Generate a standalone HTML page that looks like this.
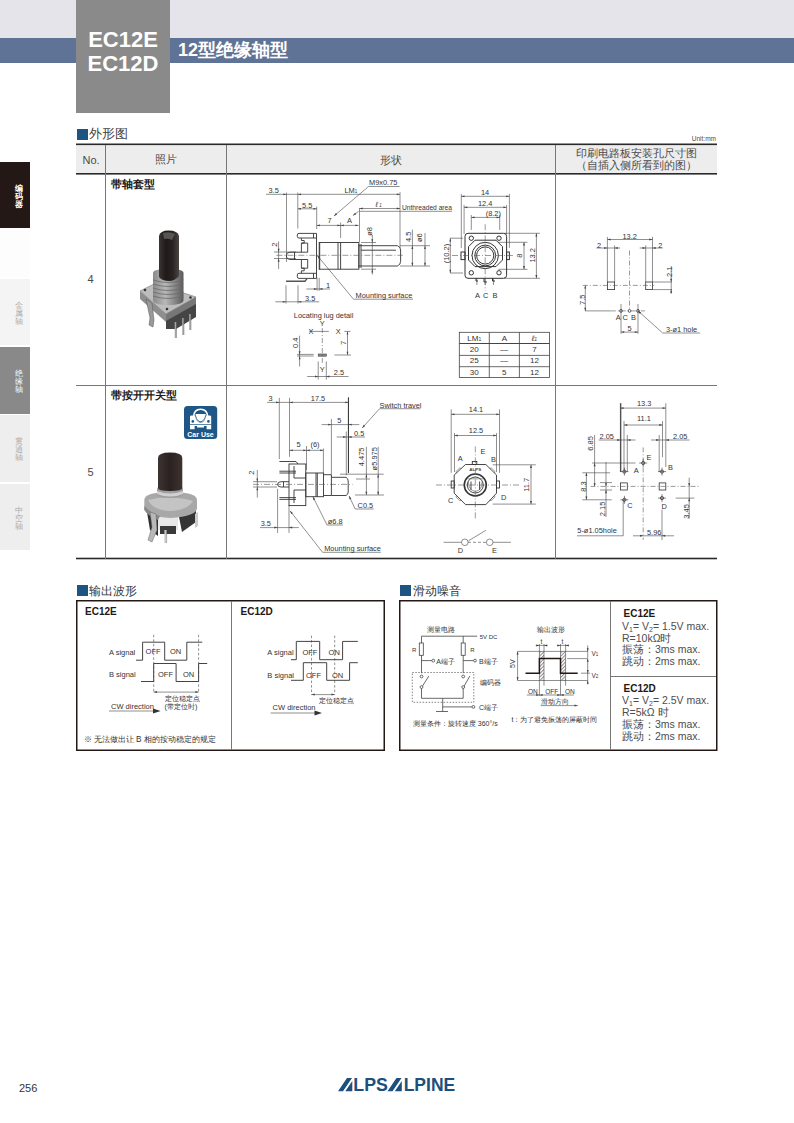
<!DOCTYPE html>
<html><head><meta charset="utf-8">
<style>
html,body{margin:0;padding:0;background:#fff;}
body{width:794px;height:1123px;position:relative;overflow:hidden;font-family:"Liberation Sans",sans-serif;color:#231815;}
.a{position:absolute;}
svg text{font-family:"Liberation Sans",sans-serif;}
</style></head><body>
<!-- header -->
<div class="a" style="left:0;top:0;width:794px;height:38px;background:#e4e4ea"></div>
<div class="a" style="left:0;top:38px;width:794px;height:25px;background:#5f7396"></div>
<div class="a" style="left:76px;top:0;width:94px;height:113px;background:#8a8a8a"></div>
<div class="a" style="left:76px;top:28px;width:94px;text-align:center;color:#fff;font-weight:bold;font-size:22px;line-height:24px">EC12E<br>EC12D</div>
<div class="a" style="left:178px;top:38px;color:#fff;font-weight:bold;font-size:18px;line-height:24px">12型绝缘轴型</div>

<!-- side tabs -->
<div class="a" style="left:0;top:162px;width:30px;height:66px;background:#231815"></div>
<div class="a" style="left:0;top:230px;width:30px;height:47px;background:#fdfdfd"></div>
<div class="a" style="left:0;top:279px;width:30px;height:66px;background:#f4f4f4"></div>
<div class="a" style="left:0;top:347px;width:30px;height:67px;background:#898989"></div>
<div class="a" style="left:0;top:415px;width:30px;height:67px;background:#eeeeee"></div>
<div class="a" style="left:0;top:484px;width:30px;height:66px;background:#eeeeee"></div>

<svg class="a" style="left:0;top:0" width="794" height="1123" viewBox="0 0 794 1123">
<g id="tabtext" font-size="8" text-anchor="middle">
<text x="19" y="191" fill="#fff" font-weight="bold">编</text><text x="19" y="199" fill="#fff" font-weight="bold">码</text><text x="19" y="207" fill="#fff" font-weight="bold">器</text>
<text x="19" y="308" fill="#aaa">金</text><text x="19" y="316" fill="#aaa">属</text><text x="19" y="324" fill="#aaa">轴</text>
<text x="19" y="376" fill="#fff">绝</text><text x="19" y="384" fill="#fff">缘</text><text x="19" y="392" fill="#fff">轴</text>
<text x="19" y="444" fill="#aaa">贯</text><text x="19" y="452" fill="#aaa">通</text><text x="19" y="460" fill="#aaa">轴</text>
<text x="19" y="513" fill="#aaa">中</text><text x="19" y="521" fill="#aaa">空</text><text x="19" y="529" fill="#aaa">轴</text>
</g>
<!-- section 1 title -->
<rect x="77" y="129" width="11" height="11" fill="#1d5482"/>
<!-- table -->
<rect x="76" y="145" width="641" height="29" fill="#ededed"/>
<rect x="76" y="143.5" width="641" height="1.6" fill="#2a2a2a"/>
<rect x="76" y="173" width="641" height="1.6" fill="#2a2a2a"/>
<rect x="76" y="385" width="641" height="1" fill="#777"/>
<rect x="76" y="557.7" width="641" height="1.6" fill="#2a2a2a"/>
<rect x="105" y="145" width="1" height="414" fill="#777"/>
<rect x="226" y="145" width="1" height="414" fill="#777"/>
<rect x="555" y="145" width="1" height="414" fill="#777"/>

<!-- ===== Row 4 side view ===== -->
<g fill="none" stroke="#444" stroke-width="0.6">
 <!-- dim lines -->
 <path d="M266 194.3H400 M286.5 192.6V262 M297.8 192.6V228.5 M297.8 208.8H316.7 M316.7 206.5V229 M316.7 225.4H358.6 M340.6 222.5V238 M359.5 208.5H400 M359.5 208V242 M400 192.2V248"/>
 <path d="M368.5 186.5H399.6 M368.5 186.5L334 216 M359.5 211.3H452 M358.6 211.3L353 215.5"/>
 <!-- ext for 2 -->
 <path d="M278.6 241.4V269 M274 252H296 M274 258.5H296"/>
 <!-- phi8 -->
 <path d="M372.3 235V274.6 M361 242.5H376 M361 269.2H376"/>
 <!-- 4.5 phi6 -->
 <path d="M412.4 229.6V266 M425 233V266 M400 245.7H430 M400 266H430"/>
 <!-- 1 and 3.5 -->
 <path d="M306.4 289H330 M317.1 277.8V290.7 M319.2 277.8V290.7 M275.3 301.8H319.2 M286 285.3V303.5 M298 285.3V303.5"/>
 <!-- mounting leader -->
 <path d="M317.1 255.3L353.5 299.2H413"/>
</g>
<g fill="none" stroke="#333" stroke-width="0.9">
 <rect x="319.2" y="242.5" width="39.7" height="26.7"/>
 <path d="M338 242.5V269.2 M340.6 242.5V269.2 M361 250.2H396"/>
 <path d="M358.9 245.7H397.4Q400.6 247 400.6 250V261.5Q400.6 264.7 397.4 266H358.9"/>
 <path d="M358.9 244V268 M361 244V268"/>
 <path d="M307.7 252.2H290Q286.3 252.2 286.3 255.8Q286.3 259.5 290 259.5H307.7 M294.5 252.2V259.5"/>
 <path d="M316.5 233.4H299Q297.3 233.4 297.3 235V236.4Q297.3 238 299 238H316.5 M313.5 233.4V238"/>
 <path d="M316.5 273.3H299Q297.3 273.3 297.3 275V276.7Q297.3 278.4 299 278.4H316.5 M313.5 273.3V278.4"/>
 <path d="M316.5 233.4V278.4 M319.7 242.5V269.6"/>
 <path d="M301.4 238V240.5H304.2V243.1H301.4V252.2 M307.7 243.1V252.2 M301.4 243.1H307.7"/>
 <path d="M301.4 273.3V270.8H304.2V268.2H301.4V259.5 M307.7 268.2V259.5 M301.4 268.2H307.7"/>
 <path d="M286 281.2H305L307 278.6" stroke-width="1.4" stroke="#555"/>
</g>
<path d="M276.4 255.3H402.7" stroke="#555" stroke-width="0.6" stroke-dasharray="6 2 1 2"/>
<g fill="#333" font-size="7.4">
 <text x="268.5" y="192.6">3.5</text>
 <text x="344.5" y="193">LM<tspan font-size="4.5">1</tspan></text>
 <text x="369" y="185">M9x0.75</text>
 <text x="302" y="207.7">5.5</text>
 <text x="375.5" y="207" font-style="italic">ℓ<tspan font-size="4.5"> 1</tspan></text>
 <text x="402" y="210" textLength="50" lengthAdjust="spacingAndGlyphs">Unthreaded area</text>
 <text x="327.5" y="223.3">7</text>
 <text x="347" y="223.3">A</text>
 <text x="355.6" y="297.5">Mounting surface</text>
 <text x="326" y="288">1</text>
 <text x="305" y="301">3.5</text>
 <text font-size="7.5" transform="translate(276.5 246.8) rotate(-90)">2</text>
 <text font-size="7.5" transform="translate(371.5 235.8) rotate(-90)">ø8</text>
 <text font-size="7.5" transform="translate(411 242.1) rotate(-90)">4.5</text>
 <text font-size="7.5" transform="translate(421.8 242.1) rotate(-90)">ø6</text>
</g>
<!-- ===== Row 4 front view ===== -->
<g fill="none" stroke="#444" stroke-width="0.6">
 <path d="M461.3 196.3H509.4 M461.3 193.9V247.9 M509.4 193.9V247.9 M464.1 207.3H506.6 M464.1 205V234 M506.6 205V234 M471.3 217.4H499.7 M471.3 215V229.9 M499.7 215V229.9"/>
 <path d="M450.3 238.2V273 M450 238.2H463 M450 273H463 M524 242.3V269.3 M498.3 242.3H527.4 M498.3 269.3H527.4 M536.4 233.3V278.3 M503.9 233.3H539.9 M503.9 278.3H539.9"/>
 <path d="M476.9 278V285 M485.2 278V285 M493.5 278V285"/>
</g>
<g fill="none" stroke="#333" stroke-width="1">
 <rect x="465" y="233.3" width="41.6" height="45" rx="3"/>
 <path d="M475 240.2H496 L502.5 246.7V260 L496 266.6H475 L468.5 260V246.7Z"/>
 <circle cx="485.2" cy="255.5" r="13.2"/>
 <circle cx="485.2" cy="255.5" r="10.4"/>
 <circle cx="485.2" cy="255.5" r="8.6"/>
 <circle cx="471.3" cy="238.2" r="2.2"/><circle cx="499" cy="238.2" r="2.2"/><circle cx="471.3" cy="272.8" r="2.2"/><circle cx="499" cy="272.8" r="2.2"/>
 <rect x="461" y="252" width="4" height="7.6"/><rect x="506.6" y="252" width="2.8" height="7.6"/>
 <path d="M476 278.3V281H478 M484 278.3V282H487 M492.5 278.3V281H495"/>
</g>
<path d="M452 255.5H512.9 M485.2 224.3V290.8" stroke="#555" stroke-width="0.6" stroke-dasharray="6 2 1 2"/>
<g fill="#333" font-size="7.4">
 <text x="481" y="194.5">14</text>
 <text x="478" y="206">12.4</text>
 <text x="485.7" y="216.3">(8.2)</text>
 <text x="475" y="297.5">A</text><text x="483" y="297.5">C</text><text x="492.6" y="297.5">B</text>
 <text font-size="7.5" transform="translate(449 263.3) rotate(-90)">(10.2)</text>
 <text font-size="7.5" transform="translate(522 257.8) rotate(-90)">8</text>
 <text font-size="7.5" transform="translate(535.3 262.6) rotate(-90)">13.2</text>
</g>
<!-- ===== Locating lug detail ===== -->
<g fill="none" stroke="#444" stroke-width="0.6">
 <path d="M309.2 331.4H328.8 M297 354.4H313.7 M297 356H313.7 M334.4 355H351 M299.6 335.7V366.5 M347.5 331.4V355 M344.4 331.4H350.5 M318.2 361.4V379.6 M326.3 361.4V379.6 M307.2 376.5H348.5"/>
 <rect x="318.2" y="354" width="8.1" height="2.2" fill="#888"/>
</g>
<path d="M322.3 328V363.4" stroke="#555" stroke-width="0.6" stroke-dasharray="5 2 1 2"/>
<g fill="#333" font-size="7.4">
 <text x="293.8" y="318.2">Locating lug detail</text>
 <text x="319.8" y="325.8">Y</text>
 <text x="308.5" y="333.6">X</text><text x="335.7" y="333.6">X</text>
 <text x="319.8" y="371.6">Y</text>
 <text x="333.8" y="375.2">2.5</text>
 <text font-size="7.5" transform="translate(298.3 348) rotate(-90)">0.4</text>
 <text font-size="7.5" transform="translate(345.7 345) rotate(-90)">7</text>
</g>
<!-- ===== LM table ===== -->
<g fill="none" stroke="#444" stroke-width="0.8">
 <rect x="459.3" y="332.3" width="90.2" height="45.3"/>
 <path d="M489.3 332.3V377.6 M519.4 332.3V377.6 M459.3 355.4H549.5 M459.3 366.7H549.5"/>
 <path d="M459.3 343.5H549.5" stroke-width="1.2"/>
</g>
<g fill="#333" font-size="8" text-anchor="middle">
 <text x="474.3" y="341.2">LM<tspan font-size="5">1</tspan></text><text x="504.3" y="341.2">A</text><text x="534.4" y="341.2" font-style="italic">ℓ<tspan font-size="5">1</tspan></text>
 <text x="474.3" y="352.2">20</text><text x="504.3" y="352.2">—</text><text x="534.4" y="352.2">7</text>
 <text x="474.3" y="363.4">25</text><text x="504.3" y="363.4">—</text><text x="534.4" y="363.4">12</text>
 <text x="474.3" y="374.6">30</text><text x="504.3" y="374.6">5</text><text x="534.4" y="374.6">12</text>
</g>
<!-- ===== Row 4 PCB ===== -->
<g fill="none" stroke="#444" stroke-width="0.6">
 <path d="M607.4 239.5H652.5 M607.4 236.9V282 M652.5 236.9V282 M596.4 248H620.2 M614.6 245.4V282 M639.7 248H662.7 M645.7 245.4V282"/>
 <path d="M652.5 282H672 M652.5 289.6H672 M671.2 266V293.9 M585.3 285.4V310.9 M585 310.9H610.8 M621 304V333.8 M638 304V333.8 M621 332.1H638 M638 310.9L662.7 333H700.1"/>
</g>
<g fill="none" stroke="#333" stroke-width="0.8">
 <rect x="607.4" y="282" width="7.2" height="7.6"/><rect x="645.7" y="282" width="6.8" height="7.6"/>
 <circle cx="621" cy="310.9" r="1.4"/><circle cx="629.5" cy="310.9" r="1.4"/><circle cx="638" cy="310.9" r="1.4"/>
</g>
<path d="M582.8 285.4H654.2 M629.5 250.5V310 M610.8 310.9H645" stroke="#555" stroke-width="0.6" stroke-dasharray="5 2 1 2"/>
<g fill="#333" font-size="7.4">
 <text x="622.5" y="239">13.2</text>
 <text x="597" y="248">2</text><text x="658.2" y="248">2</text>
 <text x="615.7" y="320.3">A</text><text x="622.6" y="320.3">C</text><text x="631" y="320.3">B</text>
 <text x="627.6" y="331.4">5</text>
 <text x="666" y="332">3-ø1 hole</text>
 <text font-size="7.5" transform="translate(672.2 277) rotate(-90)">2.1</text>
 <text font-size="7.5" transform="translate(584.7 305) rotate(-90)">7.5</text>
</g>

<!-- ===== Row 5 side view ===== -->
<g fill="none" stroke="#444" stroke-width="0.6">
 <path d="M267.2 402.4H348.8 M279.3 397.8V459 M289.5 397.8V456.8 M348.5 397V472.6"/>
 <path d="M321.6 424.6H359.3 M331.4 419V474.5 M336.6 437H365 M346.3 431.5V475.2 M289.5 450.3H323.4 M306.5 446V470 M323.4 448.4V473"/>
 <path d="M366.4 446.8V495 M378.2 446.8V495 M340 474.2H383.7 M356 479H370 M355 495H384"/>
 <path d="M257.3 470V497.6 M253 481.7H277 M253 487H277"/>
 <path d="M260 527.6H298.8 M277.6 488.8V532.9 M289 505V532.9"/>
 <path d="M379.6 408.7H420.4 M379.6 408.7L362.2 428 M355.2 509H373.7 M355.2 509L349 495.9 M327 525H342.9 M327 525L312.9 496.7 M322.6 552.3H380.8 M322.6 552.3L290 510.8"/>
</g>
<path d="M348.4 397.6V473.1" stroke="#333" stroke-width="1"/>
<g fill="none" stroke="#333" stroke-width="0.9">
 <rect x="289" y="464" width="16.8" height="41.6"/>
 <rect x="305.8" y="473" width="17.7" height="23.7"/>
 <path d="M317.3 473V496.7 M316 473V496.7"/>
 <path d="M323.5 474.7H331.4V495.5H323.5 M331.4 477.3H346Q348.2 478.5 348.2 481V492Q348.2 494.5 346 495.5H331.4"/>
 <path d="M289 481.7H281Q277.6 481.7 277.6 484.4Q277.6 487 281 487H289 M283.5 481.7V487"/>
 <path d="M279.4 471.2H296 M279.4 473H296 M279.4 497.6H296 M279.4 499.4H296 M279.4 461.5H296L298 464"/>
 <path d="M294 466V478H305.8 M294 503V490H305.8"/>
</g>
<path d="M253 484.4H352.6" stroke="#555" stroke-width="0.6" stroke-dasharray="6 2 1 2"/>
<g fill="#333" font-size="7.4">
 <text x="268.5" y="400.6">3</text>
 <text x="310.8" y="400.6">17.5</text>
 <text x="337.3" y="422.8">5</text>
 <text x="354" y="435.8">0.5</text>
 <text x="379.6" y="407.8">Switch travel</text>
 <text x="296.4" y="447">5</text><text x="310.5" y="447">(6)</text>
 <text x="357.6" y="508.2">C0.5</text>
 <text x="327.8" y="524">ø6.8</text>
 <text x="260.7" y="525.8">3.5</text>
 <text x="324.2" y="550.5">Mounting surface</text>
 <text font-size="7.5" transform="translate(254 474.8) rotate(-90)">2</text>
 <text font-size="7.5" transform="translate(363.8 466.3) rotate(-90)">4.475</text>
 <text font-size="7.5" transform="translate(377 470.4) rotate(-90)">ø5.975</text>
</g>
<!-- ===== Row 5 front view ===== -->
<g fill="none" stroke="#444" stroke-width="0.6">
 <path d="M451.2 414.3H499.5 M451.2 409.4V472.8 M499.5 409.4V472.8 M454.5 435.5H496.5 M454.5 433V472 M496.5 433V472"/>
 <path d="M531 464.8V504.1 M492.7 464.8H535.8 M492.7 504.1H535.8"/>
 <path d="M443.6 542.3H461.5 M493 542.3H510.9 M468.5 540.8L485.9 530.3"/>
 <path d="M468 542.3H486.5" stroke-dasharray="3 2"/>
 <circle cx="464.8" cy="542.3" r="3.3"/><circle cx="489.7" cy="542.3" r="3.3"/>
</g>
<g fill="none" stroke="#333" stroke-width="0.9">
 <path d="M465.5 464.5H485.9L496.5 475V493.2L485.9 504.6H465.5L454.2 493.2V475Z"/>
 <rect x="451.2" y="481" width="3" height="7"/><rect x="496.5" y="481" width="3" height="7"/>
 <rect x="472.3" y="461.5" width="4.5" height="3"/>
 <circle cx="475.3" cy="485" r="11" stroke-width="1.6"/>
 <circle cx="475.3" cy="485" r="8"/>
 <path d="M471 481.5V490 M479.6 481.5V490"/>
</g>
<text x="475.3" y="470.6" font-size="4" font-weight="bold" fill="#444" text-anchor="middle" textLength="12" lengthAdjust="spacingAndGlyphs">ALPS</text>
<g fill="none" stroke="#555" stroke-width="0.6">
 <path d="M456.5 473.2L456 471.5L459.6 468L461.5 468.5 M489.5 468.5L491.4 468L495 471.5L494.5 473.2 M456.5 495.2L456 497L459.6 500.6L461.5 500.2 M489.5 500.2L491.4 500.6L495 497L494.5 495.2"/>
 <path d="M467.5 478.8H483 M468.5 481.5Q468 490 475.3 491.5Q482.6 490 482 481.5"/>
</g>
<path d="M436 485H520.7 M475.3 446.4V520.4" stroke="#555" stroke-width="0.6" stroke-dasharray="6 2 1 2"/>
<g fill="#333" font-size="7.4">
 <text x="468.8" y="412">14.1</text>
 <text x="468.8" y="433">12.5</text>
 <text x="480.4" y="454.2">E</text><text x="457.8" y="461.2">A</text><text x="491" y="462.2">B</text>
 <text x="448" y="503">C</text><text x="501" y="500">D</text>
 <text x="457.8" y="553">D</text><text x="492" y="553">E</text>
 <text font-size="7.5" transform="translate(529.2 491.8) rotate(-90)">11.7</text>
</g>
<!-- ===== Row 5 PCB ===== -->
<g fill="none" stroke="#444" stroke-width="0.6">
 <path d="M620.4 408.1H665.8 M620.4 403.2V472 M665.8 403.2V467 M624 425H662.5 M624 421V470.3 M662.5 421V457.2"/>
 <path d="M598.7 440H635.5 M627.3 435V472 M651 440H689.5 M659.2 435V472"/>
 <path d="M594.6 435V485.9 M592.1 463H635.5 M586.4 472.8V499.8 M582.3 472.8H610.1 M582.3 499.8H611.7 M606 462V517 M600 482.6H612 M600 490H612"/>
 <path d="M689.2 477.7V518.6 M675.6 498.1H694.4 M577 535.8H623.2V499.8 M633 535.8H674 M662 509.6V540"/>
</g>
<g fill="none" stroke="#333" stroke-width="0.8">
 <path d="M620.8 403.2V472" stroke-width="1"/>
 <rect x="620.4" y="482.9" width="6.9" height="7.1"/><rect x="659.2" y="482.9" width="6.6" height="7.1"/>
 <circle cx="624.4" cy="471.6" r="1.6"/><circle cx="662" cy="471.6" r="1.6"/><circle cx="643.2" cy="463" r="1.6"/><circle cx="624.4" cy="499.8" r="1.6"/><circle cx="662" cy="498.1" r="1.6"/>
 <path d="M620.4 471.6H628.4 M624.4 467.6V475.6 M658 471.6H666 M662 467.6V475.6 M639.2 463H647.2 M643.2 459V467 M620.4 499.8H628.4 M624.4 495.8V503.8 M658 498.1H666 M662 494.1V502.1" stroke-width="0.6"/>
</g>
<path d="M590.5 486.4H699.3 M643.2 447.4V539.9" stroke="#555" stroke-width="0.6" stroke-dasharray="5 2 1 2"/>
<g fill="#333" font-size="7.4">
 <text x="637" y="405.6">13.3</text>
 <text x="637" y="421.2">11.1</text>
 <text x="599.6" y="438.9">2.05</text><text x="673" y="438.9">2.05</text>
 <text x="633.8" y="472.8">A</text><text x="668" y="470.3">B</text><text x="646.5" y="460.2">E</text>
 <text x="627.2" y="508">C</text><text x="661.6" y="508.7">D</text>
 <text x="577.3" y="533.3">5-ø1.05hole</text>
 <text x="647" y="535">5.96</text>
 <text font-size="7.5" transform="translate(593 450.8) rotate(-90)">6.85</text>
 <text font-size="7.5" transform="translate(585.8 491.7) rotate(-90)">8.3</text>
 <text font-size="7.5" transform="translate(604.6 516.3) rotate(-90)">2.15</text>
 <text font-size="7.5" transform="translate(688.9 518.7) rotate(-90)">3.45</text>
</g>

<!-- ===== Photo 1 ===== -->
<defs>
 <linearGradient id="shaft" x1="0" x2="1" y1="0" y2="0">
  <stop offset="0" stop-color="#3a3432"/><stop offset="0.35" stop-color="#1f1a19"/><stop offset="0.7" stop-color="#2a2524"/><stop offset="1" stop-color="#4a4442"/>
 </linearGradient>
 <linearGradient id="bush" x1="0" x2="1" y1="0" y2="0">
  <stop offset="0" stop-color="#8a8a8a"/><stop offset="0.4" stop-color="#b8b8b8"/><stop offset="0.8" stop-color="#7a7a7a"/><stop offset="1" stop-color="#5a5a5a"/>
 </linearGradient>
 <linearGradient id="knob" x1="0" x2="1" y1="0" y2="0">
  <stop offset="0" stop-color="#3d3431"/><stop offset="0.5" stop-color="#2a2220"/><stop offset="1" stop-color="#3d3431"/>
 </linearGradient>
</defs>
<g>
 <!-- base plate -->
 <path d="M140 291L155 283.5L196 297L166 314Z" fill="#bdbdbd" stroke="#777" stroke-width="0.6"/>
 <path d="M140 291L166 314V322L140 299Z" fill="#8e8e8e"/>
 <path d="M166 314L196 297V305L166 322Z" fill="#777"/>
 <path d="M166 321L196 304V317L176 329H166Z" fill="#454545"/>
 <path d="M146 299L150 318L149 325L153 327L154 320L152 303Z" fill="#999" stroke="#555" stroke-width="0.5"/>
 <path d="M175.5 322V338 M183 318V335 M190 314V330" stroke="#aaa" stroke-width="1.6"/>
 <path d="M175.5 322V338 M183 318V335 M190 314V330" stroke="#555" stroke-width="0.5" transform="translate(0.9 0)"/>
 <circle cx="145" cy="290" r="1.3" fill="#333"/><circle cx="190.5" cy="297.5" r="1.3" fill="#333"/><circle cx="167" cy="309" r="1.3" fill="#333"/>
 <!-- bushing -->
 <path d="M153 273Q153 269 168 269Q183.5 269 183.5 273V300Q183.5 305 168 305Q153 305 153 300Z" fill="url(#bush)"/>
 <g stroke="#6a6a6a" stroke-width="0.8" fill="none">
  <path d="M153 280Q168 285 183.5 280 M153 284Q168 289 183.5 284 M153 288Q168 293 183.5 288 M153 292Q168 297 183.5 292 M153 296Q168 301 183.5 296"/>
 </g>
 <!-- shaft -->
 <path d="M159 236Q160 230.5 168.5 230.5Q178 230.5 179 236V276Q175 281 169 281Q162 281 159 277Z" fill="url(#shaft)"/>
 <path d="M163 233Q169 231 175 234L172 240Q168 238 164 239Z" fill="#555"/>
</g>
<!-- ===== Car icon ===== -->
<rect x="184" y="406" width="33.2" height="33" rx="3.5" fill="#1e5685"/>
<path d="M193.5 417Q194 409.3 200.6 409.3Q207.2 409.3 207.8 417" fill="none" stroke="#fff" stroke-width="1.6"/>
<path d="M190 416.5Q190 415.5 191.5 415.5H195Q197 421 200.6 422.5Q204.2 421 206.2 415.5H209.7Q211.2 415.5 211.2 416.5V429.2H206.6V426H204V427.6H197V426H194.6V429.2H190Z" fill="#fff"/>
<path d="M195.5 414Q196 420 200.6 421.5Q205.2 420 205.8 414Z" fill="#fff"/>
<path d="M195.8 415.8Q196.2 422.3 200.6 422.3Q205 422.3 205.4 415.8" fill="none" stroke="#1e5685" stroke-width="0.6"/>
<circle cx="192.8" cy="421.4" r="1.3" fill="#1e5685"/><circle cx="208.4" cy="421.4" r="1.3" fill="#1e5685"/>
<rect x="190" y="424" width="21.2" height="0.7" fill="#1e5685"/>
<text x="200.5" y="436.6" font-size="7" font-weight="bold" fill="#fff" text-anchor="middle">Car Use</text>
<!-- ===== Photo 2 ===== -->
<g>
 <path d="M146 506L158 512V536L150 530Z" fill="#2e2e2e"/>
 <path d="M178 512L196 504V522L182 532Z" fill="#353535"/>
 <path d="M158 514H178V530H158Z" fill="#e8e8e8"/>
 <path d="M160 526H176V534H160Z" fill="#3a3a3a"/>
 <path d="M144.3 500Q144.3 492 170.5 492Q197 492 197 500V508Q197 516 170.5 518Q144.3 516 144.3 508Z" fill="#a8a8a8"/>
 <path d="M148 500Q168 494 193 501Q188 510 170 511Q152 510 148 500Z" fill="#c4c4c4"/>
 <path d="M144.3 506Q152 514 160 516L158 520Q148 516 144.3 510Z" fill="#888"/>
 <path d="M150 512L152 527L148 540L152 542L157 530L156 514Z" fill="#b8b8b8" stroke="#666" stroke-width="0.5"/>
 <path d="M165.5 530V543" stroke="#c8c8c8" stroke-width="2.2"/>
 <path d="M166.6 530V543" stroke="#777" stroke-width="0.5"/>
 <path d="M195 514L198 512V526L195 528Z" fill="#ccc"/>
 <!-- ring -->
 <path d="M157 489Q157 485 170 485Q183 485 183 489V494Q183 498 170 498Q157 498 157 494Z" fill="#9f9f9f"/>
 <path d="M157 491Q170 496 183 491V494Q170 499 157 494Z" fill="#d0d0d0"/>
 <!-- knob -->
 <path d="M158 458Q158 452.5 170 452.5Q182.3 452.5 182.3 458V488Q182.3 491 170 491Q158 491 158 488Z" fill="url(#knob)"/>
</g>
<!-- ===== Output waveform box ===== -->
<g fill="#231815" font-weight="bold" font-size="10">
 <text x="85" y="615">EC12E</text>
 <text x="240.5" y="614.5">EC12D</text>
</g>
<g fill="none" stroke="#444" stroke-width="1">
 <path d="M136 660.2H142.6V642.2H164.7V660.2H186.8V642.2H202.3"/>
 <path d="M141 681.5H153.7V663.5H176.1V681.5H198.6V663.5H207.2"/>
 <path d="M291 659.7H296.3V641.4H319.7V659.7H342.6V641.4H357.8"/>
 <path d="M291 680.3H303.3V662.7H326.7V680.3H349.6V662.7H357.8"/>
</g>
<g fill="none" stroke="#444" stroke-width="0.6">
 <path d="M153.7 634.8V692.1 M198.6 634.8V692.1 M311.5 635.6V694.6 M334.7 635.6V694.6" stroke-dasharray="2.5 2"/>
 <path d="M153.7 692.1H198.6 M311.5 694.6H334.7"/>
 <path d="M109 711H158 M270.6 713H319"/>
</g>
<path d="M160.6 711L153 708.5V713.5Z M322 713L314.5 710.5V715.5Z" fill="#333"/>
<g fill="#333" font-size="7.5">
 <text x="109" y="654.5">A signal</text><text x="145.6" y="653.7">OFF</text><text x="170" y="653.7">ON</text>
 <text x="109" y="677">B signal</text><text x="158" y="677">OFF</text><text x="183" y="677">ON</text>
 <text x="111" y="708.5">CW direction</text>
 <text x="267.3" y="655.3">A signal</text><text x="302.4" y="655">OFF</text><text x="328.6" y="655">ON</text>
 <text x="267.3" y="677.8">B signal</text><text x="306" y="677.8">OFF</text><text x="332" y="677.8">ON</text>
 <text x="272.6" y="709.8">CW direction</text>
</g>
<g fill="#333" font-size="7.2">
 <text x="164.5" y="700.6">定位稳定点</text>
 <text x="164.5" y="709.3">(带定位时)</text>
 <text x="318.8" y="702.8">定位稳定点</text>
</g>
<text x="83.5" y="741.5" font-size="8.2" fill="#333">※ 无法做出让 B 相的按动稳定的规定</text>
<!-- ===== Sliding noise box ===== -->
<g fill="none" stroke="#444" stroke-width="0.8">
 <path d="M421.5 673.2V636.2H477.1 M463.2 636.2V673.2 M421.5 660.6H432 M463.2 660.6H473.8"/>
 <rect x="419.3" y="643" width="4" height="12.3" fill="#fff"/><rect x="461.2" y="643" width="4" height="12.3" fill="#fff"/>
 <circle cx="433.3" cy="660.6" r="1.4" fill="#fff"/><circle cx="475" cy="660.6" r="1.4" fill="#fff"/>
 <circle cx="421.5" cy="676.5" r="1.4" fill="#fff"/><circle cx="421.5" cy="687.1" r="1.4" fill="#fff"/>
 <circle cx="463.2" cy="676.5" r="1.4" fill="#fff"/><circle cx="463.2" cy="687.1" r="1.4" fill="#fff"/>
 <path d="M422.5 686L428.8 676.1 M464.2 686L469.8 676.1"/>
 <path d="M421.5 688.5V698.3H463.2V688.5 M442.7 698.3V711.5 M442.7 706.9H472 M436 711.5H448"/>
 <circle cx="473.4" cy="706.9" r="1.4" fill="#fff"/>
 <rect x="412.3" y="672.5" width="61.5" height="29.8" stroke-dasharray="1.5 1.5" stroke="#666"/>
</g>
<g fill="#333" font-size="7">
 <text x="426.5" y="632">测量电路</text>
 <text x="479.7" y="638.8" font-size="6">5V DC</text>
 <text x="412" y="651.8" font-size="6">R</text><text x="470.3" y="651.8" font-size="6">R</text>
 <text x="436.3" y="663.5">A端子</text><text x="479" y="663.5">B端子</text>
 <text x="479.5" y="685.3">编码器</text>
 <text x="479" y="709.8">C端子</text>
 <text x="412.8" y="725.5">测量条件：旋转速度 360°/s</text>
 <text x="537.3" y="632.2">输出波形</text>
 <text x="541.3" y="704">滑动方向</text>
 <text x="511.5" y="722.2">t：为了避免振荡的屏蔽时间</text>
</g>
<defs>
 <pattern id="hatch" width="2.5" height="2.5" patternUnits="userSpaceOnUse" patternTransform="rotate(45)">
  <rect width="2.5" height="2.5" fill="#fff"/><rect width="1" height="2.5" fill="#888"/>
 </pattern>
</defs>
<rect x="539.4" y="651.4" width="4.6" height="29.1" fill="url(#hatch)"/>
<rect x="560.5" y="651.4" width="5.1" height="29.1" fill="url(#hatch)"/>
<g fill="none" stroke="#444" stroke-width="0.6">
 <path d="M517.6 651.4H587.7 M517.6 680.5H587.7 M517.6 651.4V680.5"/>
 <path d="M539.4 644V695.7 M544 644V685.7 M560.5 644V695.7 M565.6 644V685.7 M535.7 645.4H547.6 M557.2 645.4H568.7"/>
 <path d="M587.7 645.4V684.4 M567.2 658.6H587 M581 673.2H590 M526.8 695H573.8 M540.7 705.6H577.7"/>
</g>
<path d="M525.5 673.2H539.4V658.6H560.5V673.2H577.7" fill="none" stroke="#231815" stroke-width="1.5"/>
<g fill="#333" font-size="6.5">
 <text x="540.5" y="643.8">t</text><text x="561.5" y="643.8">t</text>
 <text x="591.4" y="656">V<tspan font-size="4.5">1</tspan></text><text x="591.4" y="678.2">V<tspan font-size="4.5">2</tspan></text>
 <text x="528" y="694.3">ON</text><text x="545.2" y="694.3">OFF</text><text x="565" y="694.3">ON</text>
 <text font-size="7" transform="translate(515 668) rotate(-90)">5V</text>
</g>
<!-- right column -->
<g fill="#231815" font-weight="bold" font-size="10">
 <text x="623.5" y="616.5">EC12E</text>
 <text x="623.5" y="692">EC12D</text>
</g>
<g fill="#4d4d4d" font-size="10.5">
 <text x="622" y="630.3">V<tspan font-size="7" dy="1.5">1</tspan><tspan dy="-1.5">= V</tspan><tspan font-size="7" dy="1.5">2</tspan><tspan dy="-1.5">= 1.5V max.</tspan></text>
 <text x="622" y="641.5">R=10kΩ时</text>
 <text x="622" y="653.3">振荡：3ms max.</text>
 <text x="622" y="665.2">跳动：2ms max.</text>
 <text x="622" y="704">V<tspan font-size="7" dy="1.5">1</tspan><tspan dy="-1.5">= V</tspan><tspan font-size="7" dy="1.5">2</tspan><tspan dy="-1.5">= 2.5V max.</tspan></text>
 <text x="622" y="715.8">R=5kΩ 时</text>
 <text x="622" y="727.5">振荡：3ms max.</text>
 <text x="622" y="739.5">跳动：2ms max.</text>
</g>
<!-- footer logo -->
<g fill="#1d4f7c">
 <text x="353.3" y="1091.2" font-size="18" font-weight="bold" textLength="34.5" lengthAdjust="spacingAndGlyphs">LPS</text>
 <text x="403.7" y="1091.2" font-size="18" font-weight="bold" textLength="51.5" lengthAdjust="spacingAndGlyphs">LPINE</text>
 <path d="M338 1091.2L347 1078.1H352L343 1091.2Z M345.3 1091.2L352.3 1081V1091.2Z"/>
 <path d="M387.5 1091.2L396.5 1078.1H401.5L392.5 1091.2Z M394.8 1091.2L401.8 1081V1091.2Z"/>
</g>

<!-- arrows -->
<path fill="#444" d="M286.5 194.3L283.3 193.4L283.3 195.2Z M297.8 194.3L301.0 193.4L301.0 195.2Z M400.0 194.3L396.8 193.4L396.8 195.2Z M297.8 208.8L301.0 207.9L301.0 209.8Z M316.7 208.8L313.5 207.9L313.5 209.8Z M316.7 225.4L319.9 224.5L319.9 226.3Z M340.6 225.4L337.4 224.5L337.4 226.3Z M340.6 225.4L343.8 224.5L343.8 226.3Z M358.6 225.4L355.4 224.5L355.4 226.3Z M359.5 208.5L362.7 207.6L362.7 209.4Z M400.0 208.5L396.8 207.6L396.8 209.4Z M278.6 252.0L277.7 248.8L279.6 248.8Z M278.6 258.5L277.7 261.7L279.6 261.7Z M372.3 242.5L371.4 239.3L373.2 239.3Z M372.3 269.2L371.4 272.4L373.2 272.4Z M412.4 245.7L411.4 248.9L413.3 248.9Z M412.4 266.0L411.4 262.8L413.3 262.8Z M425.0 245.7L424.1 248.9L425.9 248.9Z M425.0 266.0L424.1 262.8L425.9 262.8Z M317.1 289.0L313.9 288.1L313.9 289.9Z M319.2 289.0L322.4 288.1L322.4 289.9Z M286.0 301.8L282.8 300.9L282.8 302.8Z M298.0 301.8L301.2 300.9L301.2 302.8Z M461.3 196.3L464.5 195.4L464.5 197.2Z M509.4 196.3L506.2 195.4L506.2 197.2Z M464.1 207.3L467.3 206.4L467.3 208.2Z M506.6 207.3L503.4 206.4L503.4 208.2Z M471.3 217.4L474.5 216.5L474.5 218.3Z M499.7 217.4L496.5 216.5L496.5 218.3Z M450.3 238.2L449.4 241.4L451.2 241.4Z M450.3 273.0L449.4 269.8L451.2 269.8Z M524.0 242.3L523.0 245.5L525.0 245.5Z M524.0 269.3L523.0 266.1L525.0 266.1Z M536.4 233.3L535.4 236.5L537.4 236.5Z M536.4 278.3L535.4 275.1L537.4 275.1Z M347.5 331.4L346.6 334.6L348.4 334.6Z M347.5 355.0L346.6 351.8L348.4 351.8Z M318.2 376.5L315.0 375.6L315.0 377.4Z M326.3 376.5L329.5 375.6L329.5 377.4Z M299.6 354.4L298.7 351.2L300.6 351.2Z M299.6 356.0L298.7 359.2L300.6 359.2Z M607.4 239.5L610.6 238.6L610.6 240.4Z M652.5 239.5L649.3 238.6L649.3 240.4Z M607.4 248.0L604.2 247.1L604.2 248.9Z M614.6 248.0L617.8 247.1L617.8 248.9Z M645.7 248.0L642.5 247.1L642.5 248.9Z M652.5 248.0L655.7 247.1L655.7 248.9Z M671.2 282.0L670.2 278.8L672.2 278.8Z M671.2 289.6L670.2 292.8L672.2 292.8Z M585.3 285.4L584.3 288.6L586.2 288.6Z M585.3 310.9L584.3 307.7L586.2 307.7Z M621.0 332.1L624.2 331.2L624.2 333.1Z M638.0 332.1L634.8 331.2L634.8 333.1Z M279.3 402.4L276.1 401.4L276.1 403.3Z M289.5 402.4L292.7 401.4L292.7 403.3Z M348.5 402.4L345.3 401.4L345.3 403.3Z M331.4 424.6L328.2 423.7L328.2 425.6Z M348.5 424.6L351.7 423.7L351.7 425.6Z M346.3 437.0L343.1 436.1L343.1 437.9Z M348.4 437.0L351.6 436.1L351.6 437.9Z M289.5 450.3L292.7 449.4L292.7 451.2Z M306.5 450.3L303.3 449.4L303.3 451.2Z M306.5 450.3L309.7 449.4L309.7 451.2Z M323.4 450.3L320.2 449.4L320.2 451.2Z M366.4 474.2L365.4 477.4L367.3 477.4Z M366.4 495.0L365.4 491.8L367.3 491.8Z M378.2 474.2L377.2 477.4L379.1 477.4Z M378.2 495.0L377.2 491.8L379.1 491.8Z M257.3 481.7L256.4 478.5L258.2 478.5Z M257.3 487.0L256.4 490.2L258.2 490.2Z M277.6 527.6L274.4 526.6L274.4 528.6Z M289.0 527.6L292.2 526.6L292.2 528.6Z M451.2 414.3L454.4 413.4L454.4 415.2Z M499.5 414.3L496.3 413.4L496.3 415.2Z M454.5 435.5L457.7 434.6L457.7 436.4Z M496.5 435.5L493.3 434.6L493.3 436.4Z M531.0 464.8L530.0 468.0L532.0 468.0Z M531.0 504.1L530.0 500.9L532.0 500.9Z M620.4 408.1L623.6 407.2L623.6 409.1Z M665.8 408.1L662.6 407.2L662.6 409.1Z M624.0 425.0L627.2 424.1L627.2 425.9Z M662.5 425.0L659.3 424.1L659.3 425.9Z M620.4 440.0L617.2 439.1L617.2 440.9Z M627.3 440.0L630.5 439.1L630.5 440.9Z M659.2 440.0L656.0 439.1L656.0 440.9Z M665.8 440.0L669.0 439.1L669.0 440.9Z M594.6 463.0L593.6 466.2L595.6 466.2Z M594.6 486.4L593.6 483.2L595.6 483.2Z M586.4 472.8L585.4 476.0L587.4 476.0Z M586.4 499.8L585.4 496.6L587.4 496.6Z M689.2 486.4L688.2 483.2L690.2 483.2Z M689.2 498.1L688.2 501.3L690.2 501.3Z M606.0 486.4L605.0 483.2L607.0 483.2Z M606.0 490.0L605.0 493.2L607.0 493.2Z M643.2 535.8L640.0 534.8L640.0 536.8Z M662.0 535.8L665.2 534.8L665.2 536.8Z M153.7 692.1L156.9 691.1L156.9 693.1Z M198.6 692.1L195.4 691.1L195.4 693.1Z M311.5 694.6L314.7 693.6L314.7 695.6Z M334.7 694.6L331.5 693.6L331.5 695.6Z M539.4 645.4L536.2 644.4L536.2 646.4Z M544.0 645.4L547.2 644.4L547.2 646.4Z M560.5 645.4L557.3 644.4L557.3 646.4Z M565.6 645.4L568.8 644.4L568.8 646.4Z M517.6 651.4L516.6 654.6L518.6 654.6Z M517.6 680.5L516.6 677.3L518.6 677.3Z M587.7 651.4L586.8 648.2L588.7 648.2Z M587.7 658.6L586.8 661.8L588.7 661.8Z M587.7 673.2L586.8 670.0L588.7 670.0Z M587.7 680.5L586.8 683.7L588.7 683.7Z M539.4 695.0L536.2 694.0L536.2 696.0Z M539.4 695.0L542.6 694.0L542.6 696.0Z M560.5 695.0L557.3 694.0L557.3 696.0Z M560.5 695.0L563.7 694.0L563.7 696.0Z M577.7 705.6L574.5 704.6L574.5 706.6Z"/>
<path fill="#444" d="M334.0 216.0L337.2 214.6L335.9 213.0Z M353.0 215.5L356.3 214.3L355.1 212.7Z M362.2 428.0L365.2 426.1L363.7 424.8Z M349.0 495.9L349.6 499.4L351.4 498.5Z M312.9 496.7L313.5 500.2L315.3 499.3Z M290.0 510.8L291.3 514.1L292.9 512.9Z M317.1 255.3L318.5 258.6L320.0 257.3Z M638.0 310.9L639.9 313.9L641.2 312.4Z"/>
<!-- section 2/3 titles -->
<rect x="77" y="585" width="11" height="11" fill="#1d5482"/>
<rect x="400" y="585" width="11" height="11" fill="#1d5482"/>
<!-- boxes -->
<rect x="76.75" y="601" width="607.5" height="149" fill="none"/>
<rect x="76.75" y="600.75" width="307.5" height="149.5" fill="none" stroke="#231815" stroke-width="1.5"/>
<rect x="399.75" y="600.75" width="317" height="149.5" fill="none" stroke="#231815" stroke-width="1.5"/>
<rect x="231" y="601" width="1" height="149" fill="#777"/>
<rect x="610" y="601" width="1" height="149" fill="#777"/>
<rect x="610" y="676" width="106" height="1" fill="#777"/>
<g id="thead" fill="#4a4a4a">
<text x="82.5" y="164" font-size="11">No.</text>
<text x="166" y="163" font-size="10.5" text-anchor="middle">照片</text>
<text x="390.5" y="164" font-size="10.5" text-anchor="middle">形状</text>
<text x="636" y="157" font-size="10.5" text-anchor="middle">印刷电路板安装孔尺寸图</text>
<text x="636" y="169" font-size="10.5" text-anchor="middle">（自插入侧所看到的图）</text>
<text x="716" y="141" font-size="6.5" text-anchor="end">Unit:mm</text>
<text x="87.5" y="283" font-size="11">4</text>
<text x="87.5" y="476" font-size="11">5</text>
</g>
<g fill="#231815" font-weight="bold" font-size="10.5">
<text x="111" y="188">带轴套型</text>
<text x="111" y="399">带按开开关型</text>
</g>

</svg>

<div class="a" style="left:89px;top:126px;font-size:13px;line-height:16px;color:#444">外形图</div>
<div class="a" style="left:412.5px;top:583px;font-size:11.8px;line-height:16px;color:#333">滑动噪音</div>
<div class="a" style="left:89px;top:583px;font-size:11.8px;line-height:16px;color:#333">输出波形</div>

<!-- footer -->
<div class="a" style="left:19px;top:1082px;font-size:11px;line-height:13px;color:#333">256</div>
</body></html>
